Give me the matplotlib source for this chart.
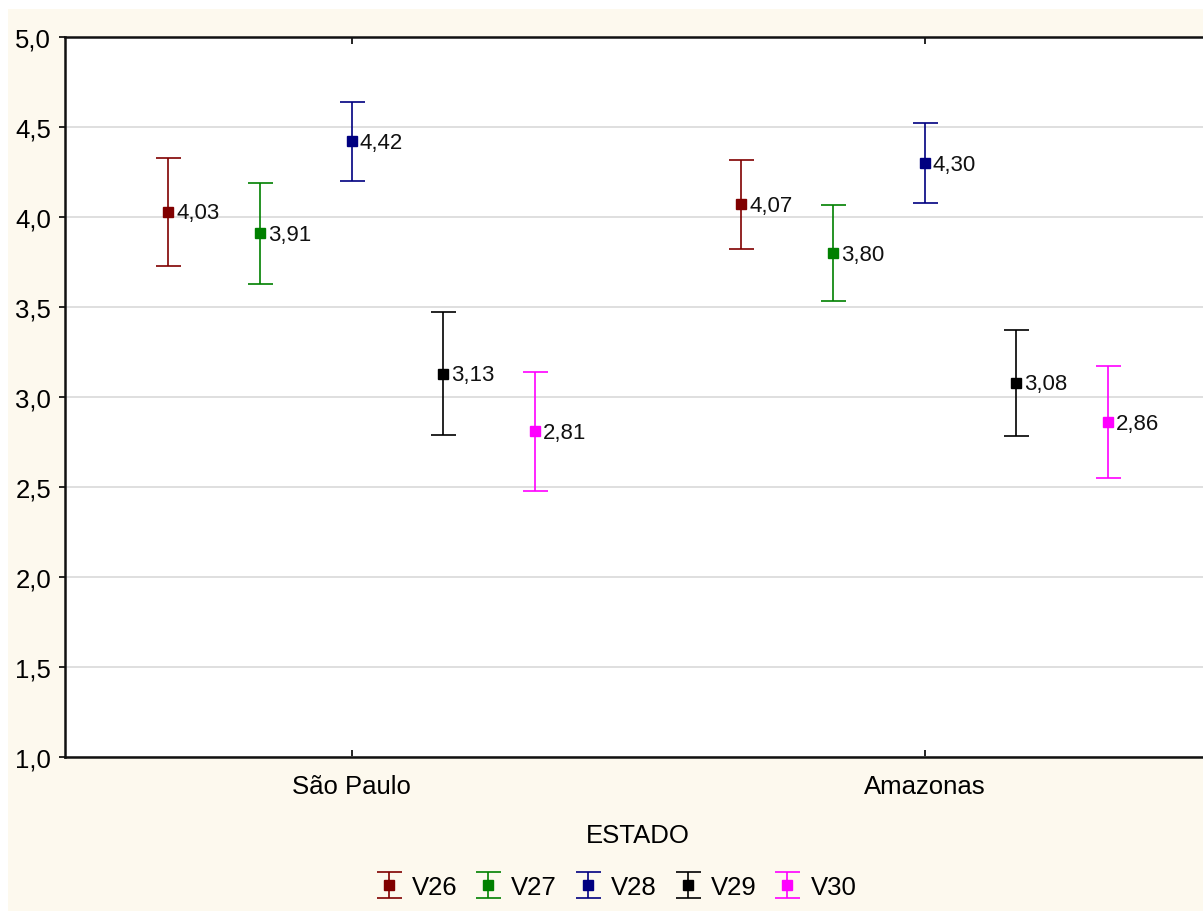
import numpy as np
import matplotlib
matplotlib.use('Agg')
import matplotlib.pyplot as plt
from matplotlib.patches import Rectangle

plt.rcParams['font.family'] = ['Liberation Sans', 'DejaVu Sans']

estados = ['São Paulo', 'Amazonas']
series = ['V26', 'V27', 'V28', 'V29', 'V30']
colors = ['#800000', '#008000', '#000080', '#000000', '#ff00ff']
means = {
    'V26': [4.03, 4.07],
    'V27': [3.91, 3.80],
    'V28': [4.42, 4.30],
    'V29': [3.13, 3.08],
    'V30': [2.81, 2.86],
}
errs = {
    'V26': [0.30, 0.245],
    'V27': [0.28, 0.265],
    'V28': [0.22, 0.22],
    'V29': [0.34, 0.295],
    'V30': [0.33, 0.31],
}
yticks = [1.0, 1.5, 2.0, 2.5, 3.0, 3.5, 4.0, 4.5, 5.0]
ytick_labels = ['1,0', '1,5', '2,0', '2,5', '3,0', '3,5', '4,0', '4,5', '5,0']

fig = plt.figure(figsize=(12.03, 9.12), dpi=100, facecolor='white')
fig.patches.append(Rectangle((8 / 1203, 0), 1, (912 - 10) / 912,
                             transform=fig.transFigure, facecolor='#fdf9ee',
                             edgecolor='none', zorder=-10))
ax = fig.add_axes([65 / 1203, 154 / 912, 1146 / 1203, 720 / 912])
ax.set_facecolor('white')

x = np.arange(len(estados))
step = 0.16
handles = []
for i, s in enumerate(series):
    xs = x + (i - 2) * step
    h = ax.errorbar(xs, means[s], yerr=errs[s], fmt='s', color=colors[i],
                    ecolor=colors[i], ms=7, elinewidth=1.2, capsize=9,
                    capthick=1.2, label=s, zorder=3)
    handles.append(h)
    for xi, m in zip(xs, means[s]):
        ax.annotate(f'{m:.2f}'.replace('.', ','), (xi, m), xytext=(6, -1),
                    textcoords='offset points', ha='left', va='center',
                    fontsize=16, color='#111111')

ax.set_xlim(-0.5, 1.5)
ax.set_ylim(1.0, 5.0)
ax.set_yticks(yticks)
ax.set_yticklabels(ytick_labels)
ax.set_xticks(x)
ax.set_xticklabels(estados)
ax.yaxis.grid(True, color='#d9d9d9', lw=1.2)
ax.set_axisbelow(True)
ax.tick_params(axis='y', direction='out', length=4, width=1.2, labelsize=18.5, pad=6)
ax.tick_params(axis='x', direction='in', length=5, width=1.2, labelsize=18.5, pad=12,
               top=True)
for side in ['left', 'bottom', 'top']:
    ax.spines[side].set_linewidth(1.8)
    ax.spines[side].set_color('#111111')
ax.spines['right'].set_visible(False)
ax.set_xlabel('ESTADO', fontsize=18.5, labelpad=18)

fig.legend(handles=handles, labels=series, loc='center', ncol=5,
           bbox_to_anchor=(616 / 1203, 24 / 912), frameon=False, fontsize=18.5,
           handlelength=1.0, handletextpad=0.4, columnspacing=0.7)

fig.savefig('out.png', dpi=100, facecolor=fig.get_facecolor())
